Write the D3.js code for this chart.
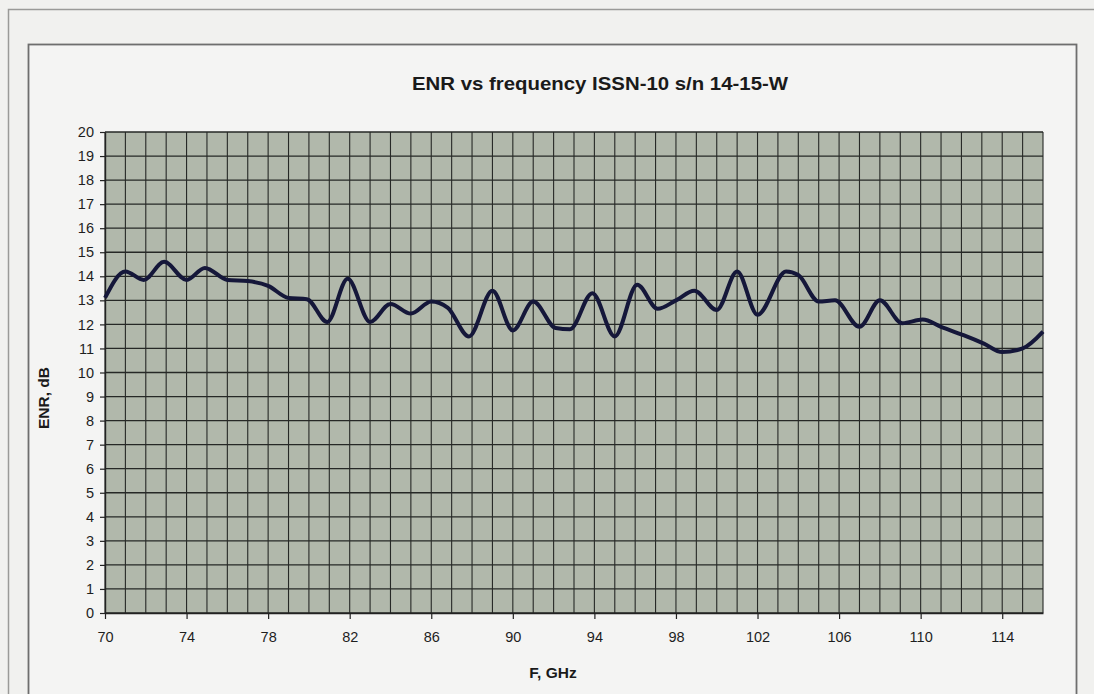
<!DOCTYPE html>
<html>
<head>
<meta charset="utf-8">
<script src="https://cdn.jsdelivr.net/npm/d3@7"></script>
<style>
    body { margin: 0; background: #f1f1ef; }
    svg { display: block; font-family: "Liberation Sans", Arial, sans-serif; }
</style>
</head>
<body>
<div id="chart"></div>
<script>

// frequency, GHz
var freq = [70, 71, 71.9, 72.9, 74, 74.9, 76, 77, 78, 79, 79.9, 80.9, 81.9, 83,
    84, 85, 86, 86.8, 87.85, 89, 90, 91, 92.1, 92.8, 93.9, 95, 96.1, 97.1, 98, 98.9,
    100, 101, 102, 103.4, 104, 105, 105.8, 107, 108, 109.1, 110.1, 111, 112.1, 113.1,
    114, 115, 116];

// ENR, dB
var enr = [13.1, 14.2, 13.85, 14.6, 13.85, 14.35, 13.85, 13.8, 13.6, 13.1, 13.05, 12.1, 13.9, 12.1,
    12.85, 12.45, 12.95, 12.7, 11.5, 13.4, 11.75, 12.95, 11.85, 11.8, 13.3, 11.5, 13.65, 12.65, 13.0, 13.4,
    12.6, 14.2, 12.4, 14.2, 14.05, 12.95, 13.0, 11.9, 13.0, 12.05, 12.2, 11.9, 11.55, 11.2,
    10.85, 11.0, 11.7];

var xTicks = [70, 74, 78, 82, 86, 90, 94, 98, 102, 106, 110, 114];
var yTicks = d3.range(0, 21);
var xGrid = d3.range(70, 117);

var width = 1094,
    height = 694;

var margin = {
    top: 132,
    right: 51,
    bottom: 81,
    left: 105
};

var svg = d3.select("#chart").append("svg")
    .attr("width", width)
    .attr("height", height);

// page frame and chart box
svg.append("rect")
    .attr("x", 8.5).attr("y", 9.5)
    .attr("width", width + 20).attr("height", height + 20)
    .attr("fill", "none")
    .attr("stroke", "#9a9a98")
    .attr("stroke-width", 1.5);

svg.append("rect")
    .attr("x", 28.5).attr("y", 44.5)
    .attr("width", 1048).attr("height", 660)
    .attr("fill", "#f4f4f3")
    .attr("stroke", "#6e6e6e")
    .attr("stroke-width", 1.8);

var x = d3.scaleLinear()
    .domain([70, 116])
    .range([margin.left, width - margin.right]);

var y = d3.scaleLinear()
    .domain([0, 20])
    .range([height - margin.bottom, margin.top]);

// plot area
svg.append("rect")
    .attr("x", x(70)).attr("y", y(20))
    .attr("width", x(116) - x(70))
    .attr("height", y(0) - y(20))
    .attr("fill", "#b1b8ab");

// grid
svg.append("g")
    .selectAll("line")
    .data(xGrid)
    .enter().append("line")
    .attr("x1", function (d) { return x(d); })
    .attr("x2", function (d) { return x(d); })
    .attr("y1", y(20))
    .attr("y2", y(0))
    .attr("stroke", "#262826")
    .attr("stroke-width", 1.1);

svg.append("g")
    .selectAll("line")
    .data(yTicks)
    .enter().append("line")
    .attr("x1", x(70))
    .attr("x2", x(116))
    .attr("y1", function (d) { return y(d); })
    .attr("y2", function (d) { return y(d); })
    .attr("stroke", "#262826")
    .attr("stroke-width", 1.3);

// axes
var xAxis = svg.append("g")
    .attr("transform", "translate(0," + y(0) + ")")
    .call(d3.axisBottom(x).tickValues(xTicks).tickSize(6).tickPadding(13).tickSizeOuter(0));

var yAxis = svg.append("g")
    .attr("transform", "translate(" + x(70) + ",0)")
    .call(d3.axisLeft(y).tickValues(yTicks).tickSize(5).tickPadding(6).tickSizeOuter(0));

[xAxis, yAxis].forEach(function (a) {
    a.select(".domain").attr("stroke", "#222").attr("stroke-width", 1.4);
    a.selectAll(".tick line").attr("stroke", "#222").attr("stroke-width", 1.2);
    a.selectAll(".tick text")
        .attr("fill", "#1e1e1e")
        .style("font-size", "14.5px")
        .style("font-family", "'Liberation Sans', Arial, sans-serif");
});

// curve
var line = d3.line()
    .x(function (d) { return x(d[0]); })
    .y(function (d) { return y(d[1]); })
    .curve(d3.curveMonotoneX);

svg.append("path")
    .datum(d3.zip(freq, enr))
    .attr("d", line)
    .attr("fill", "none")
    .attr("stroke", "#15173a")
    .attr("stroke-width", 4)
    .attr("stroke-linejoin", "round");

// titles
svg.append("text")
    .attr("x", 600)
    .attr("y", 90)
    .attr("text-anchor", "middle")
    .attr("fill", "#1a1a1a")
    .style("font-size", "19px")
    .style("font-weight", "bold")
    .attr("textLength", 376)
    .attr("lengthAdjust", "spacingAndGlyphs")
    .text("ENR vs frequency ISSN-10 s/n 14-15-W");

svg.append("text")
    .attr("x", 553)
    .attr("y", 678)
    .attr("text-anchor", "middle")
    .attr("fill", "#1a1a1a")
    .style("font-size", "15.5px")
    .style("font-weight", "bold")
    .text("F, GHz");

svg.append("text")
    .attr("transform", "translate(49,398) rotate(-90)")
    .attr("text-anchor", "middle")
    .attr("fill", "#1a1a1a")
    .style("font-size", "15.5px")
    .style("font-weight", "bold")
    .text("ENR, dB");

</script>
</body>
</html>
